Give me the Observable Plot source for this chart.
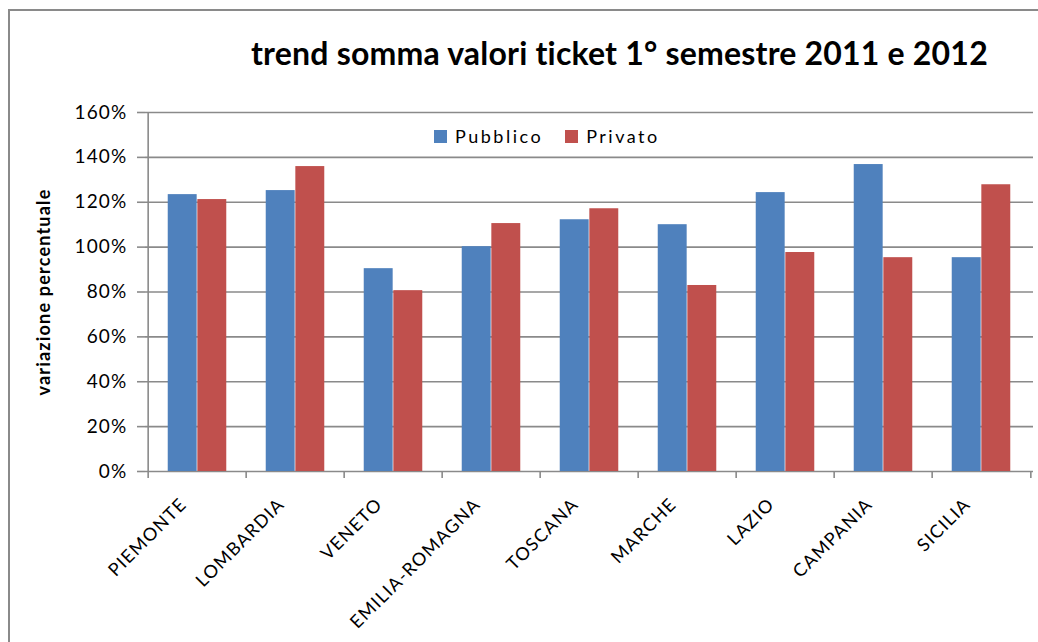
<!DOCTYPE html>
<html>
<head>
<meta charset="utf-8">
<script src="https://cdn.jsdelivr.net/npm/d3@7"></script>
<script src="https://cdn.jsdelivr.net/npm/@observablehq/plot@0.6"></script>
<style>
  html, body { margin: 0; padding: 0; background: #fff; }
  #wrap { position: relative; width: 1038px; height: 642px; overflow: hidden; font-family: Lato, "Open Sans", sans-serif; }
  #frame { position: absolute; left: 8px; top: 9px; width: 1100px; height: 700px; border-top: 2px solid #8a8a8a; border-left: 2px solid #8a8a8a; pointer-events: none; }
  #title { height: 90px; position: relative; }
  #title span { position: absolute; left: 251px; top: 33px; font-size: 32px; font-weight: 700; color: #000; white-space: nowrap; letter-spacing: 0.2px; }
  #legend { position: absolute; left: 434px; top: 125px; display: flex; align-items: center; font-size: 18px; letter-spacing: 2.5px; color: #000; }
  #legend .sw { display: inline-block; width: 13px; height: 13px; margin-right: 8px; }
  #legend .item { display: flex; align-items: center; margin-right: 22px; }
  svg text { letter-spacing: 1.2px; }
</style>
</head>
<body>
<div id="wrap">
  <div id="title"><span></span></div>
  <div id="chart"></div>
  <div id="legend"></div>
  <div id="frame"></div>
</div>
<script>
const titleText = "trend somma valori ticket 1° semestre 2011 e 2012";
const yLabel = "variazione percentuale";
const regions = ["PIEMONTE", "LOMBARDIA", "VENETO", "EMILIA-ROMAGNA", "TOSCANA", "MARCHE", "LAZIO", "CAMPANIA", "SICILIA"];
const seriesNames = ["Pubblico", "Privato"];
const seriesColors = ["#4f81bd", "#c0504d"];
const pubblico = [123.4, 125.2, 90.4, 100.2, 112.2, 110.0, 124.3, 136.8, 95.3];
const privato  = [121.2, 135.9, 80.6, 110.5, 117.1, 82.9, 97.6, 95.3, 127.8];
const yTicks = [0, 20, 40, 60, 80, 100, 120, 140, 160];

const dataPub = regions.map((r, i) => ({region: r, value: pubblico[i]}));
const dataPriv = regions.map((r, i) => ({region: r, value: privato[i]}));

const width = 1038, height = 552;
const marginLeft = 145, marginRight = 5, marginTop = 22, marginBottom = 171;
const bw = (width - marginLeft - marginRight) / regions.length;
const grid = "#8a8a8a";

document.querySelector("#title span").textContent = titleText;

const chart = Plot.plot({
  width, height, marginLeft, marginRight, marginTop, marginBottom,
  style: {fontFamily: "Lato, 'Open Sans', sans-serif", background: "#fff", color: "#000"},
  x: {domain: regions, padding: 0},
  y: {domain: [0, 160]},
  marks: [
    Plot.ruleY(yTicks, {stroke: grid, strokeWidth: 1.6}),
    Plot.barY(dataPub, {x: "region", y: "value", fill: seriesColors[0], insetLeft: 0.2 * bw, insetRight: 0.5 * bw}),
    Plot.barY(dataPriv, {x: "region", y: "value", fill: seriesColors[1], insetLeft: 0.5 * bw, insetRight: 0.2 * bw}),
    Plot.ruleX([regions[0]], {dx: -bw / 2, stroke: grid, strokeWidth: 1.6}),
    Plot.ruleX(regions, {x: d => d, y1: 0, y2: 0, dx: -bw / 2, insetBottom: -7, stroke: grid, strokeWidth: 1.6}),
    Plot.ruleX([regions[regions.length - 1]], {x: d => d, y1: 0, y2: 0, dx: bw / 2, insetBottom: -7, stroke: grid, strokeWidth: 1.6}),
    Plot.axisY({ticks: yTicks, tickFormat: d => d + "%", tickSize: 8, tickPadding: 10, stroke: grid, strokeWidth: 1.6, fontSize: 19, label: null, color: "#000"}),
    Plot.axisX({tickSize: 0, tickRotate: -45, tickPadding: 30, dx: -14, fontSize: 18, label: null}),
    Plot.text([yLabel], {frameAnchor: "left", textAnchor: "middle", rotate: -90, dx: -101, fontSize: 18, fontWeight: "bold", fill: "#000"})
  ]
});
document.getElementById("chart").appendChild(chart);

const legend = document.getElementById("legend");
seriesNames.forEach((name, i) => {
  const item = document.createElement("div");
  item.className = "item";
  const sw = document.createElement("span");
  sw.className = "sw";
  sw.style.background = seriesColors[i];
  const t = document.createElement("span");
  t.textContent = name;
  item.appendChild(sw);
  item.appendChild(t);
  legend.appendChild(item);
});
</script>
</body>
</html>
